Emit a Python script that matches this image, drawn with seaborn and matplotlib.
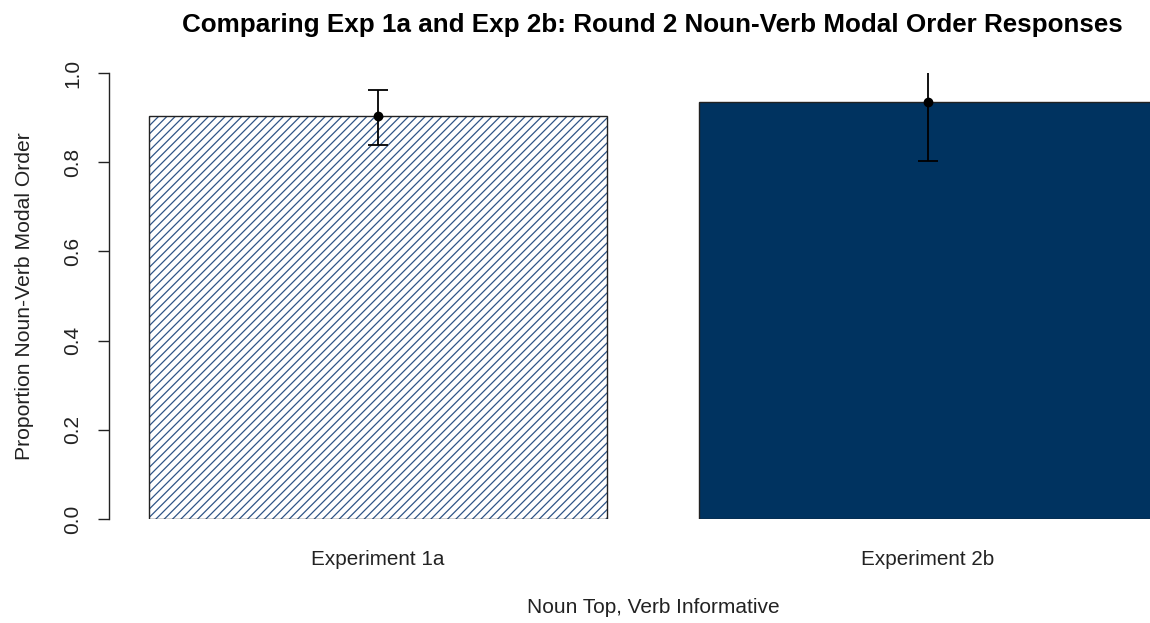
import matplotlib
matplotlib.use("Agg")
import matplotlib.pyplot as plt
from matplotlib.patches import Rectangle
from matplotlib.ticker import FormatStrFormatter
import pandas as pd
import seaborn as sns

# Round 2 noun-verb modal order responses per experiment
experiments = ["Experiment 1a", "Experiment 2b"]
proportions = [0.903, 0.936]
ci_lower = [0.839, 0.803]
ci_upper = [0.962, 1.069]

title = "Comparing Exp 1a and Exp 2b: Round 2 Noun-Verb Modal Order Responses"
x_title = "Noun Top, Verb Informative"
y_title = "Proportion Noun-Verb Modal Order"
y_ticks = [0.0, 0.2, 0.4, 0.6, 0.8, 1.0]

navy = "#003360"
hatch_navy = "#2f5587"

sns.set_theme(style="white")
plt.rcParams["font.family"] = ["Liberation Sans", "DejaVu Sans"]
plt.rcParams["hatch.linewidth"] = 0.9

fig = plt.figure(figsize=(11.5, 6.23), dpi=100)
ax = fig.add_axes([0.0945, 0.1669, 0.9464, 0.7159])

df = pd.DataFrame({"experiment": experiments, "proportion": proportions})
sns.barplot(
    data=df, x="experiment", y="proportion", hue="experiment",
    palette=["white", navy], saturation=1, width=1 / 1.2,
    edgecolor="#222222", linewidth=1.0, legend=False, errorbar=None, ax=ax,
)

# first bar: dense diagonal hatching with a dark outline drawn on top
hatched = ax.patches[0]
hatched.set_hatch("////")
hatched.set_edgecolor(hatch_navy)
hatched.set_linewidth(0)
ax.add_patch(Rectangle((hatched.get_x(), hatched.get_y()), hatched.get_width(),
                       hatched.get_height(), fill=False, edgecolor="#222222",
                       linewidth=1.0, zorder=hatched.get_zorder() + 0.1))

# interval around each proportion
lower_err = [p - lo for p, lo in zip(proportions, ci_lower)]
upper_err = [hi - p for p, hi in zip(proportions, ci_upper)]
ax.errorbar(range(len(experiments)), proportions, yerr=[lower_err, upper_err],
            fmt="o", color="black", markersize=6, elinewidth=1.3,
            capsize=7, capthick=1.3, zorder=5)

ax.set_xlim(-0.49, 1.49)
ax.set_ylim(0, 1)
ax.set_yticks(y_ticks)
ax.yaxis.set_major_formatter(FormatStrFormatter("%.1f"))

for side in ["top", "right", "bottom"]:
    ax.spines[side].set_visible(False)
ax.spines["left"].set_color("#222222")
ax.spines["left"].set_linewidth(1.0)

ax.tick_params(axis="y", left=True, length=8, width=1.0, color="#222222",
               labelsize=15, labelcolor="#222222", pad=11, labelrotation=90)
for lab in ax.get_yticklabels():
    lab.set_va("center")
ax.tick_params(axis="x", bottom=False, length=0, labelsize=14.9,
               labelcolor="#222222", pad=22)

ax.set_xlabel(x_title, fontsize=15, color="#222222", labelpad=21)
ax.set_ylabel(y_title, fontsize=15.2, color="#222222", labelpad=21)
ax.text(0.5, 1.093, title, transform=ax.transAxes, ha="center", va="baseline",
        fontsize=18.7, fontweight="bold", color="black")

fig.savefig("out.png", dpi=100)
